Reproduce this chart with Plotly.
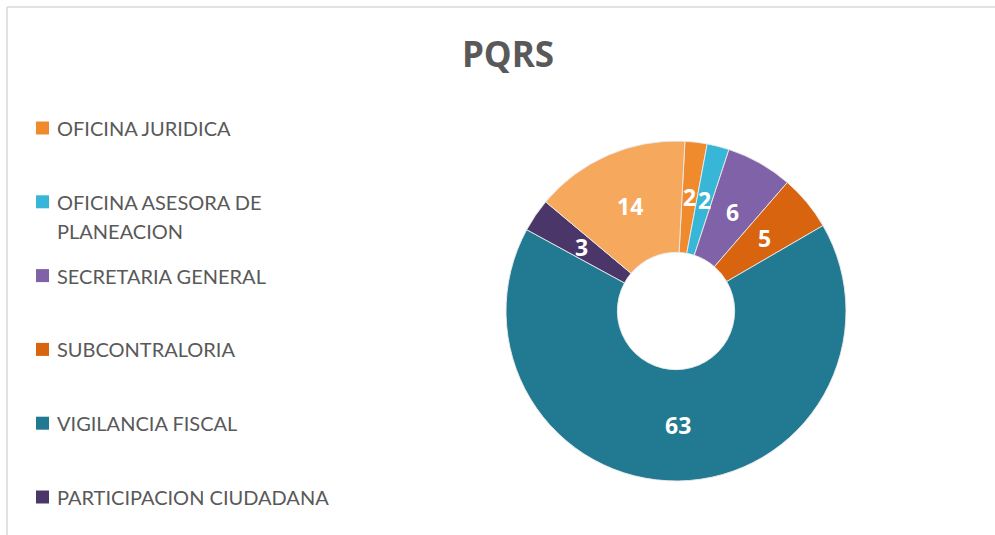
import math
import textwrap
import plotly.graph_objects as go

# PQRS received per office
categories = [
    "OFICINA JURIDICA",
    "OFICINA ASESORA DE PLANEACION",
    "SECRETARIA GENERAL",
    "SUBCONTRALORIA",
    "VIGILANCIA FISCAL",
    "PARTICIPACION CIUDADANA",
    "OTROS",
]
values = [2, 2, 6, 5, 63, 3, 14]
colors = ["#EF8B2C", "#38B6D8", "#8062A8", "#D9640F", "#217A91", "#4B3669", "#F6A85D"]
legend_rows = 6  # the legend box only has room for six entries

W, H = 995, 535
cx, cy, r_out = 676, 311, 170   # donut centre and outer radius (px)
hole = 0.345
rotation = 3

fig = go.Figure()

fig.add_trace(go.Pie(
    labels=categories,
    values=values,
    hole=hole,
    sort=False,
    direction="clockwise",
    rotation=rotation,
    marker=dict(colors=colors, line=dict(color="rgba(235,235,235,0.9)", width=1)),
    textinfo="none",
    hoverinfo="label+value",
    showlegend=False,
    domain=dict(x=[(cx - r_out) / W, (cx + r_out) / W],
                y=[1 - (cy + r_out) / H, 1 - (cy - r_out) / H]),
))

annotations = []
shapes = []

# value labels at the middle of the ring
total = sum(values)
r_lab = r_out * (1 + hole) / 2
cum = 0
for v in values:
    mid = math.radians(rotation + (cum + v / 2) / total * 360)
    cum += v
    px = cx + r_lab * math.sin(mid)
    py = cy - r_lab * math.cos(mid)
    annotations.append(dict(
        x=px / W, y=1 - py / H, xref="paper", yref="paper",
        text=f"<b>{v}</b>", showarrow=False,
        font=dict(family="Open Sans", size=23, color="white"),
        xanchor="center", yanchor="middle",
    ))

# legend
row0, row_step, line_h = 128, 73.8, 29
sq = 13
for i in range(legend_rows):
    ry = row0 + i * row_step
    shapes.append(dict(
        type="rect", xref="paper", yref="paper",
        x0=36 / W, x1=(36 + sq) / W,
        y0=1 - (ry + sq / 2) / H, y1=1 - (ry - sq / 2) / H,
        fillcolor=colors[i], line=dict(width=0),
    ))
    for j, line in enumerate(textwrap.wrap(categories[i], 23)):
        annotations.append(dict(
            x=55 / W, y=1 - (ry + j * line_h) / H, xref="paper", yref="paper",
            text=line, showarrow=False,
            font=dict(family="Lato", size=20, color="#595959"),
            xanchor="left", yanchor="middle",
        ))

# chart area border (top and left edges visible)
shapes.append(dict(type="line", xref="paper", yref="paper",
                   x0=7 / W, x1=1.01, y0=1 - 7 / H, y1=1 - 7 / H,
                   line=dict(color="#D9D9D9", width=1.5)))
shapes.append(dict(type="line", xref="paper", yref="paper",
                   x0=7 / W, x1=7 / W, y0=-0.01, y1=1 - 7 / H,
                   line=dict(color="#D9D9D9", width=1.5)))

fig.update_layout(
    width=W, height=H,
    margin=dict(l=0, r=0, t=0, b=0),
    paper_bgcolor="white",
    plot_bgcolor="white",
    title=dict(text="<b>PQRS</b>", x=508 / W, xanchor="center",
               y=1 - 55 / H, yanchor="middle",
               font=dict(family="Open Sans", size=35, color="#595959")),
    annotations=annotations,
    shapes=shapes,
)

fig.write_html("out.html")
